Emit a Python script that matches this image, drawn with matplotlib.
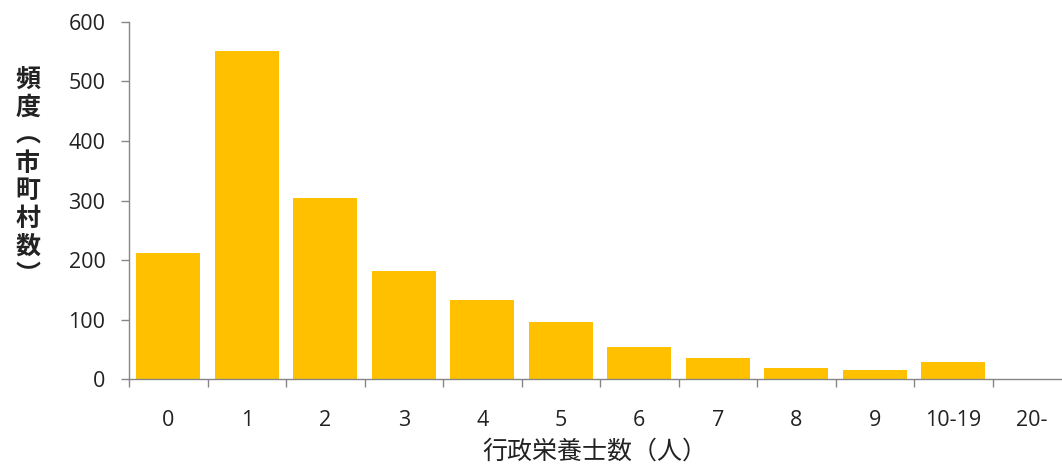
import matplotlib
matplotlib.use('Agg')
from matplotlib import pyplot as plt
import numpy as np

# data
categories = ["0", "1", "2", "3", "4", "5", "6", "7", "8", "9", "10-19", "20-"]
counts = [211, 552, 305, 181, 133, 96, 54, 35, 18, 15, 28, 0]
y_ticks = [0, 100, 200, 300, 400, 500, 600]

plt.rcParams['font.family'] = ['Open Sans', 'Noto Sans CJK JP', 'DejaVu Sans']

fig = plt.figure(figsize=(10.62, 4.67), dpi=100)
# the category axis runs slightly past the right edge of the picture
ax = fig.add_axes([0.1215, 0.1884, 0.887, 0.7645])

x = np.arange(len(categories))
ax.bar(x, counts, width=0.81, color='#FFC000', zorder=2)

ax.set_xlim(-0.5, len(categories) - 0.5)
ax.set_ylim(0, 600)
ax.set_yticks(y_ticks)
ax.set_yticklabels([str(v) for v in y_ticks], fontsize=15.5, color='#222222')

# category labels centred, tick marks between categories
ax.set_xticks(x)
ax.set_xticklabels(categories, fontsize=15.5, color='#222222')
ax.tick_params(axis='x', which='major', length=0, pad=22)
ax.set_xticks(np.arange(len(categories) + 1) - 0.5, minor=True)
ax.tick_params(axis='x', which='minor', length=6, color='#868686', width=1)
ax.tick_params(axis='y', length=6, color='#868686', width=1, pad=11)

for side in ['top', 'right']:
    ax.spines[side].set_visible(False)
for side in ['left', 'bottom']:
    ax.spines[side].set_color('#868686')
    ax.spines[side].set_linewidth(1)

fig.text(0.56, 0.032, "行政栄養士数（人）", fontsize=18, ha='center', va='center',
         family=['Noto Sans CJK JP'], color='#222222')
fig.text(0.026, 0.62, "頻\n度\n︵\n市\n町\n村\n数\n︶", fontsize=18, ha='center', va='center',
         family=['Noto Sans CJK JP'], linespacing=1.2, fontweight='bold', color='#222222')

plt.savefig('out.png', dpi=100)
